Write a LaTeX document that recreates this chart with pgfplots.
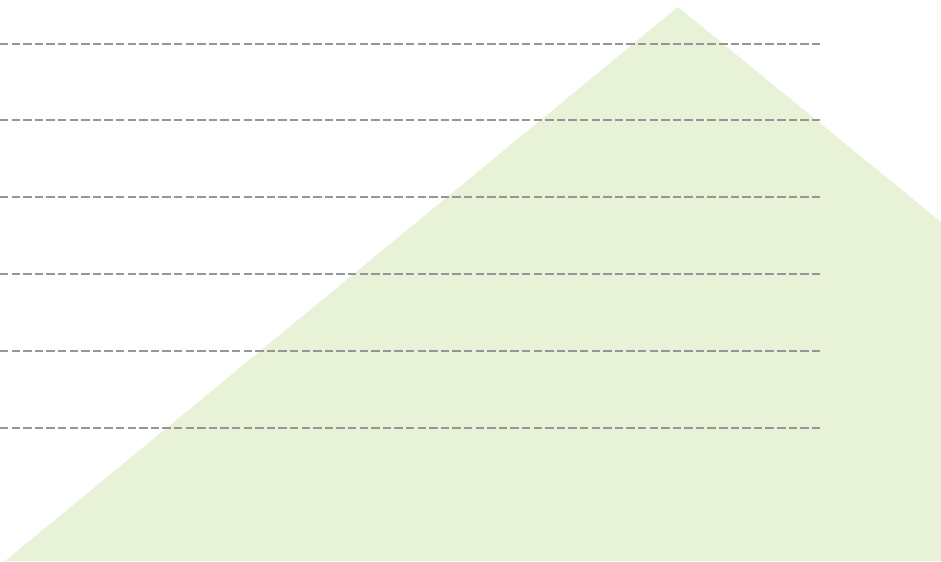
\documentclass[border=0pt]{standalone}
\usepackage{pgfplots}
\pgfplotsset{compat=1.18}
\definecolor{areagreen}{RGB}{232,242,214}
\definecolor{gridgray}{RGB}{150,150,150}
\begin{document}
\begin{tikzpicture}
\begin{axis}[
  scale only axis,
  width=9.41cm, height=5.61cm,
  xmin=0, xmax=941, ymin=0, ymax=561,
  axis line style={draw=none},
  xtick=\empty, ytick=\empty,
  clip=true,
]
\addplot[fill=areagreen, draw=none] coordinates {(5,0) (678,554) (941,339) (941,0)} -- cycle;
\pgfplotsinvokeforeach{517,441,364,287,210,133}{
  \addplot[gridgray, line width=0.68pt, dash pattern=on 2.4pt off 0.9pt] coordinates {(0,#1) (823,#1)};
}
\end{axis}
\end{tikzpicture}
\end{document}
